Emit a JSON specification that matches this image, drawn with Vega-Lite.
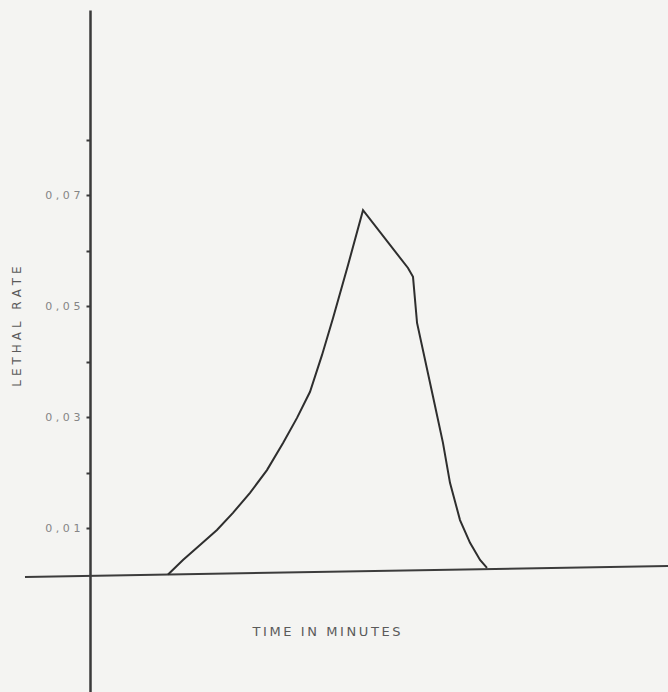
{
  "$schema": "https://vega.github.io/schema/vega-lite/v6.json",
  "autosize": {"type": "none"},
  "padding": {"left": 90, "top": 10, "right": 0, "bottom": 0},
  "width": 578,
  "height": 682,
  "background": "#f4f4f2",
  "config": {
    "view": {"stroke": null},
    "font": "DejaVu Sans"
  },
  "datasets": {
    "curve": [
      {"minutes": 8.10, "rate": 0.0017},
      {"minutes": 9.65, "rate": 0.0043},
      {"minutes": 11.42, "rate": 0.0070},
      {"minutes": 13.18, "rate": 0.0097},
      {"minutes": 14.84, "rate": 0.0128},
      {"minutes": 16.61, "rate": 0.0164},
      {"minutes": 18.37, "rate": 0.0205},
      {"minutes": 20.04, "rate": 0.0254},
      {"minutes": 21.49, "rate": 0.0299},
      {"minutes": 22.84, "rate": 0.0346},
      {"minutes": 24.08, "rate": 0.0412},
      {"minutes": 25.23, "rate": 0.0479},
      {"minutes": 26.78, "rate": 0.0574},
      {"minutes": 28.34, "rate": 0.0673},
      {"minutes": 33.01, "rate": 0.0569},
      {"minutes": 33.53, "rate": 0.0553},
      {"minutes": 33.95, "rate": 0.0470},
      {"minutes": 35.61, "rate": 0.0337},
      {"minutes": 36.64, "rate": 0.0254},
      {"minutes": 37.37, "rate": 0.0182},
      {"minutes": 38.41, "rate": 0.0115},
      {"minutes": 39.45, "rate": 0.0074},
      {"minutes": 40.49, "rate": 0.0043},
      {"minutes": 41.21, "rate": 0.0029}
    ],
    "baseline": [
      {"minutes": -6.75, "rate": 0.00124, "minutes_end": 60, "rate_end": 0.00322}
    ]
  },
  "layer": [
    {
      "data": {"name": "baseline"},
      "mark": {"type": "rule", "color": "#3c3c3c", "strokeWidth": 2},
      "encoding": {
        "x": {"field": "minutes", "type": "quantitative"},
        "y": {"field": "rate", "type": "quantitative"},
        "x2": {"field": "minutes_end"},
        "y2": {"field": "rate_end"}
      }
    },
    {
      "data": {"name": "curve"},
      "mark": {"type": "line", "color": "#2e2e2e", "strokeWidth": 2, "strokeJoin": "miter"},
      "encoding": {
        "x": {
          "field": "minutes",
          "type": "quantitative",
          "scale": {"domain": [0, 60], "nice": false, "zero": false},
          "axis": {
            "title": "T\u2009I\u2009M\u2009E\u2009 \u2009I\u2009N\u2009 \u2009M\u2009I\u2009N\u2009U\u2009T\u2009E\u2009S",
            "domain": false,
            "ticks": false,
            "labels": false,
            "grid": false,
            "titleFont": "DejaVu Sans",
            "titleFontSize": 13,
            "titleFontWeight": "normal",
            "titleColor": "#5a5a5a",
            "titleX": 236,
            "titleY": -61,
            "titleAlign": "center",
            "titleBaseline": "middle"
          }
        },
        "y": {
          "field": "rate",
          "type": "quantitative",
          "scale": {"domain": [-0.01947, 0.10337], "nice": false, "zero": false},
          "axis": {
            "title": "L\u2004E\u2004T\u2004H\u2004A\u2004L\u2004 \u2004R\u2004A\u2004T\u2004E",
            "values": [0.01, 0.02, 0.03, 0.04, 0.05, 0.06, 0.07, 0.08],
            "labelExpr": "datum.value === 0.01 ? '0\u2004,\u20040\u20041' : datum.value === 0.03 ? '0\u2004,\u20040\u20043' : datum.value === 0.05 ? '0\u2004,\u20040\u20045' : datum.value === 0.07 ? '0\u2004,\u20040\u20047' : ''",
            "grid": false,
            "domainColor": "#3a3a3a",
            "domainWidth": 2.5,
            "tickColor": "#3a3a3a",
            "tickWidth": 2,
            "tickSize": 4,
            "labelFont": "DejaVu Sans",
            "labelFontSize": 11,
            "labelColor": "#858585",
            "labelPadding": 6,
            "titleFont": "DejaVu Sans",
            "titleFontSize": 12,
            "titleFontWeight": "normal",
            "titleColor": "#5a5a5a",
            "titleX": -74,
            "titleY": 316,
            "titleAngle": -90,
            "titleAlign": "center",
            "titleBaseline": "middle"
          }
        }
      }
    }
  ]
}
